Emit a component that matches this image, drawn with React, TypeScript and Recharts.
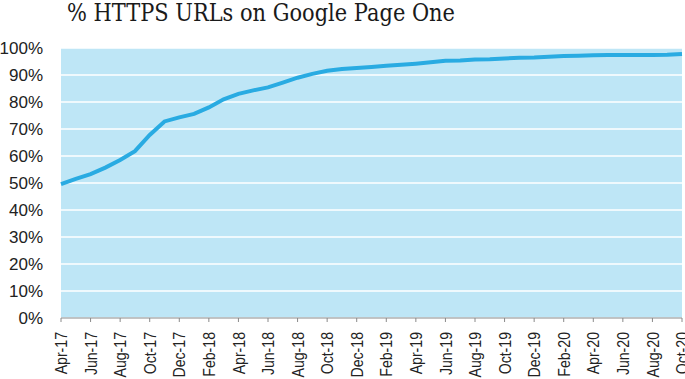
import { LineChart, Line, XAxis, YAxis, CartesianGrid } from 'recharts'

const months = [
  'Apr-17', 'May-17', 'Jun-17', 'Jul-17', 'Aug-17', 'Sep-17', 'Oct-17', 'Nov-17', 'Dec-17',
  'Jan-18', 'Feb-18', 'Mar-18', 'Apr-18', 'May-18', 'Jun-18', 'Jul-18', 'Aug-18', 'Sep-18',
  'Oct-18', 'Nov-18', 'Dec-18', 'Jan-19', 'Feb-19', 'Mar-19', 'Apr-19', 'May-19', 'Jun-19',
  'Jul-19', 'Aug-19', 'Sep-19', 'Oct-19', 'Nov-19', 'Dec-19', 'Jan-20', 'Feb-20', 'Mar-20',
  'Apr-20', 'May-20', 'Jun-20', 'Jul-20', 'Aug-20', 'Sep-20', 'Oct-20',
]

const httpsShare = [
  49.6, 51.5, 53.3, 55.7, 58.5, 61.8, 67.8, 72.8, 74.3,
  75.6, 78.0, 81.0, 83.0, 84.3, 85.4, 87.2, 89.0, 90.4,
  91.6, 92.2, 92.6, 93.0, 93.4, 93.8, 94.2, 94.7, 95.3,
  95.4, 95.7, 95.8, 96.1, 96.4, 96.5, 96.8, 97.0, 97.1,
  97.3, 97.4, 97.4, 97.4, 97.4, 97.5, 97.8,
]

const yTicks = [0, 10, 20, 30, 40, 50, 60, 70, 80, 90, 100]

const data = months.map((month, i) => ({ month, value: httpsShare[i] }))

// rotated month label, squeezed a bit to look like the narrow font in the original
const XTick = ({ x, y, payload }: any) => (
  <text
    x={0}
    y={0}
    transform={`translate(${x} ${y}) rotate(-90) scale(0.83 1)`}
    textAnchor="end"
    dy="0.36em"
    fontSize={17}
    fontFamily="'Liberation Sans', Arial, sans-serif"
    fill="#222"
  >
    {payload.value}
  </text>
)

export default function App() {
  return (
    <div style={{ position: 'absolute', left: 0, top: 0, width: 685, height: 379, background: '#fff' }}>
      <svg width={685} height={40} style={{ position: 'absolute', left: 0, top: 0 }}>
        <text
          x={67}
          y={21}
          fontSize={25}
          fontFamily="'DejaVu Serif', serif"
          fill="#1a1a1a"
          textLength={388}
          lengthAdjust="spacingAndGlyphs"
        >
          % HTTPS URLs on Google Page One
        </text>
      </svg>
      <LineChart
        width={685}
        height={379}
        data={data}
        margin={{ top: 48, right: 3, left: 0, bottom: 0 }}
      >
        <CartesianGrid vertical={false} stroke="#ffffff" strokeWidth={1.5} fill="#bee6f6" />
        <XAxis
          dataKey="month"
          interval={1}
          height={61}
          tick={<XTick />}
          tickSize={4}
          tickMargin={10}
          stroke="#8a8a8a"
          axisLine={{ stroke: '#8a8a8a' }}
          tickLine={{ stroke: '#8a8a8a' }}
        />
        <YAxis
          width={61}
          domain={[0, 100]}
          ticks={yTicks}
          interval={0}
          axisLine={false}
          tickLine={false}
          tickSize={0}
          tickMargin={18}
          tickFormatter={(v: number) => `${v}%`}
          tick={{ fontSize: 17, fontFamily: 'Liberation Sans, Arial, sans-serif', fill: '#222' }}
        />
        <Line
          type="linear"
          dataKey="value"
          stroke="#29abe2"
          strokeWidth={4}
          dot={false}
          isAnimationActive={false}
        />
      </LineChart>
    </div>
  )
}
